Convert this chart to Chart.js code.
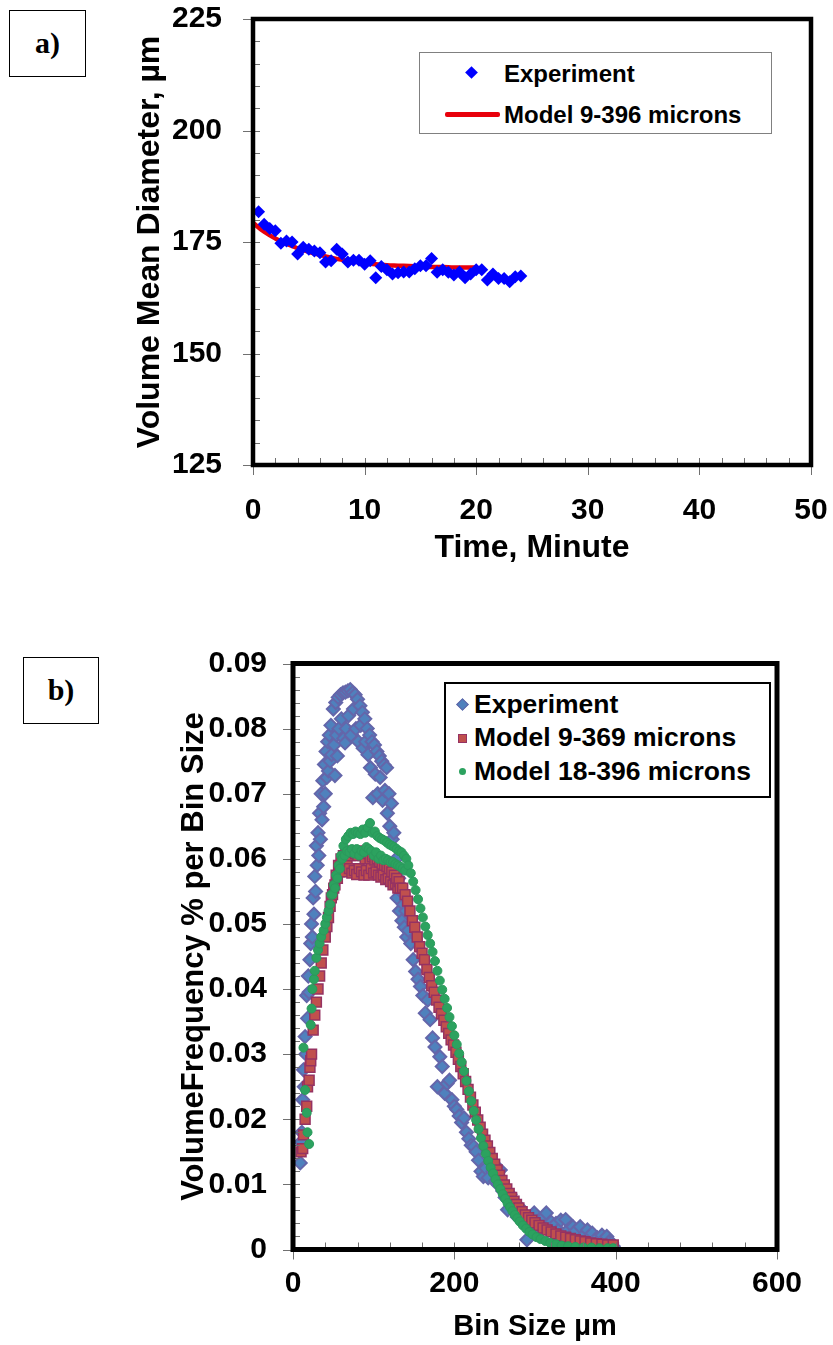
<!DOCTYPE html>
<html>
<head>
<meta charset="utf-8">
<script src="https://cdn.jsdelivr.net/npm/chart.js@4.4.1/dist/chart.umd.min.js"></script>
<style>
  html, body { margin: 0; padding: 0; background: #fff; }
  #page { position: relative; width: 833px; height: 1345px; overflow: hidden; }
  canvas { position: absolute; left: 0; }
  .panel { position: absolute; box-sizing: border-box; border: 1.5px solid #000; background: #fff;
           font: bold 30px "Liberation Serif", "Times New Roman", serif; text-align: center; }
  .legend { position: absolute; box-sizing: border-box; background: #fff; }
  .legend span { position: absolute; white-space: nowrap; font-family: "Liberation Sans", Arial, sans-serif; font-weight: bold; color: #000; }
  .mk { position: absolute; box-sizing: border-box; }
</style>
</head>
<body>
<div id="page">
  <canvas id="chartA" width="833" height="600" style="top:0"></canvas>
  <canvas id="chartB" width="833" height="725" style="top:620px"></canvas>

  <div class="panel" style="left:9px;top:10px;width:77px;height:67px;line-height:64px">a)</div>
  <div class="panel" style="left:23px;top:657px;width:76px;height:67px;line-height:64px">b)</div>

  <!-- légende a -->
  <div class="legend" style="left:419px;top:52px;width:353px;height:82px;border:1.5px solid #808080">
    <div class="mk" style="left:47px;top:15px;width:9px;height:9px;background:#0000ff;transform:rotate(45deg)"></div>
    <span style="left:84px;top:6px;font-size:24px;line-height:30px">Experiment</span>
    <div class="mk" style="left:25px;top:59px;width:55px;height:5px;background:#e8000b;border-radius:2px"></div>
    <span style="left:84px;top:47px;font-size:24px;line-height:30px">Model 9-396 microns</span>
  </div>

  <!-- légende b -->
  <div class="legend" style="left:444px;top:682px;width:327px;height:116px;border:2px solid #000">
    <div class="mk" style="left:12px;top:16px;width:9px;height:9px;background:#4f81bd;border:1.5px solid #6264a7;transform:rotate(45deg)"></div>
    <span style="left:28px;top:4px;font-size:26.5px;line-height:32px">Experiment</span>
    <div class="mk" style="left:12px;top:50px;width:9px;height:9px;background:#c0504d;border:1.5px solid #953262"></div>
    <span style="left:28px;top:37px;font-size:26.5px;line-height:32px">Model 9-369 microns</span>
    <div class="mk" style="left:13px;top:84px;width:7px;height:7px;background:#2ca25f;border-radius:50%"></div>
    <span style="left:28px;top:71px;font-size:26.5px;line-height:32px">Model 18-396 microns</span>
  </div>
</div>

<script>
// ---------- données graphique a) ----------
const timeExp = [0.5, 1, 1.5, 2, 2.5, 3, 3.5, 4, 4.5, 5, 5.5, 6, 6.5, 7, 7.5, 8, 8.5, 9, 9.5, 10,
  10.5, 11, 11.5, 12, 12.5, 13, 13.5, 14, 14.5, 15, 15.5, 16, 16.5, 17, 17.5, 18, 18.5, 19, 19.5, 20,
  20.5, 21, 21.5, 22, 22.5, 23, 23.5, 24];
const diamExp = [181.8, 179.0, 178.0, 177.5, 174.7, 175.2, 175.0, 172.3, 173.8, 173.4, 173.0, 172.6, 170.5, 170.8, 173.4, 172.3, 170.5, 170.9, 170.9, 170.0,
  170.8, 167.0, 169.5, 168.8, 167.8, 168.1, 168.3, 168.3, 169.0, 169.7, 169.7, 171.3, 168.2, 168.8, 168.2, 167.6, 168.3, 167.0, 167.8, 168.8,
  168.8, 166.5, 167.8, 166.8, 166.8, 166.1, 167.2, 167.4];

const timeModel = [0, 1, 2, 3, 4, 5, 6, 7, 8, 9, 10, 11, 12, 13, 14, 15, 16, 17, 18, 19, 20];
const diamModel = [179.3, 177.3, 175.8, 174.6, 173.6, 172.8, 172.1, 171.5, 171.0, 170.6, 170.3,
  170.0, 169.8, 169.7, 169.6, 169.5, 169.4, 169.4, 169.3, 169.3, 169.3];

const timeMinor = [0, 2, 4, 6, 8, 10, 12, 14, 16, 18, 20, 22, 24, 26, 28, 30, 32, 34, 36, 38, 40, 42, 44, 46, 48, 50];
const diamMinor = [125, 130, 135, 140, 145, 150, 155, 160, 165, 170, 175, 180, 185, 190, 195, 200, 205, 210, 215, 220, 225];

// ---------- données graphique b) ----------
const expBin = [9, 10, 11, 12, 13, 14, 15, 16, 17, 18, 19, 20, 21, 22, 23, 24, 25, 26, 27, 28, 29, 30,
  31, 32, 33, 34, 35, 36, 37, 38, 39, 40, 41, 42, 43, 44,
  45, 46, 47, 48, 50, 51, 53, 54, 56, 57, 59, 60, 62, 63, 65, 66, 68, 69, 71, 72, 74, 75, 77, 78,
  80, 81, 83, 84, 86, 87, 89, 90, 92, 93, 95, 96, 98, 99, 101, 102, 104, 105, 107, 108,
  110, 111, 113, 114, 116, 117, 119, 120, 122, 123, 125, 126, 128, 129, 131, 132, 134, 135, 137, 138,
  140, 141, 143,
  146, 149, 152, 155, 158, 161, 164, 167, 170, 173, 176, 179, 182, 185, 188, 191, 194, 197, 200,
  203, 206, 209, 212, 215, 218, 221, 224, 227, 230, 233, 236, 239, 242, 245, 248, 251, 254, 257, 260,
  263, 266, 269, 272, 275, 278, 281, 284, 287, 290, 293, 296, 299, 302, 305, 308, 311, 314, 317, 320,
  323, 326, 329, 332, 335, 338, 341, 344, 347, 350, 353, 356, 359, 362, 365, 368, 371, 374, 377, 380,
  383, 386, 389, 392, 395, 397,
  52, 55, 64.5];
const expFreq = [0.0133, 0.0165, 0.0180, 0.0230, 0.0276, 0.0250, 0.0327, 0.0300, 0.0390, 0.0355, 0.0420, 0.0395, 0.0445, 0.0470, 0.0500, 0.0480, 0.0540, 0.0515, 0.0573, 0.0550, 0.0620, 0.0590,
  0.0640, 0.0605, 0.0670, 0.0630, 0.0700, 0.0660, 0.0720, 0.0680, 0.0745, 0.0700, 0.0765, 0.0725, 0.0780, 0.0735,
  0.0790, 0.0750, 0.0805, 0.0760, 0.0830, 0.0775, 0.0840, 0.0790, 0.0848, 0.0800, 0.0852, 0.0815, 0.0855, 0.0785, 0.0856, 0.0800, 0.0858, 0.0820, 0.0860, 0.0790, 0.0855, 0.0830, 0.0852, 0.0800,
  0.0845, 0.0780, 0.0835, 0.0805, 0.0825, 0.0770, 0.0815, 0.0780, 0.0800, 0.0760, 0.0790, 0.0740, 0.0780, 0.0694, 0.0775, 0.0730, 0.0765, 0.0700, 0.0758, 0.0725,
  0.0750, 0.0690, 0.0744, 0.0705, 0.0740, 0.0670, 0.0700, 0.0650, 0.0685, 0.0630, 0.0640, 0.0590, 0.0600, 0.0540, 0.0570, 0.0520, 0.0550, 0.0505, 0.0530, 0.0495,
  0.0520, 0.0480, 0.0490,
  0.0470, 0.0445, 0.0427, 0.0415, 0.0404, 0.0390, 0.0363, 0.0383, 0.0353, 0.0325, 0.0311, 0.0250, 0.0296, 0.0281, 0.0240, 0.0255, 0.0260, 0.0230, 0.0220,
  0.0215, 0.0205, 0.0195, 0.0202, 0.0180, 0.0170, 0.0160, 0.0158, 0.0150, 0.0137, 0.0120, 0.0112, 0.0125, 0.0110, 0.0135, 0.0120, 0.0105, 0.0100, 0.0122, 0.0090,
  0.0080, 0.0061, 0.0085, 0.0076, 0.0060, 0.0050, 0.0065, 0.0045, 0.0055, 0.0015, 0.0048, 0.0040, 0.0056, 0.0035, 0.0045, 0.0030, 0.0050, 0.0056, 0.0032, 0.0042,
  0.0025, 0.0040, 0.0030, 0.0045, 0.0020, 0.0046, 0.0030, 0.0010, 0.0035, 0.0028, 0.0005, 0.0035, 0.0020, 0.0008, 0.0030, 0.0015, 0.0025, 0.0005, 0.0018, 0.0010,
  0.0022, 0.0008, 0.0020, 0.0012, 0.0010, 0.0005,
  0.0728, 0.0758, 0.0778];

// Model 9-369 microns
const modelABin = [10, 12, 13, 15, 17, 18, 20, 21, 22, 23, 25, 27, 29, 31, 33, 35, 37, 40, 42, 44,
  46, 47.5, 49, 50.5, 52, 53.5, 55, 56.5, 58, 59.5, 61, 62.5, 64, 65.5, 67, 68.5, 70, 71.5, 73, 74.5,
  76, 77.5, 79, 80.5, 82, 83.5, 85, 86.5, 88, 89.5, 91, 92.5, 94, 95.5, 97, 98.5, 100, 101.5, 103, 104.5,
  106, 107.5, 109, 110.5, 112, 113.5, 115, 116.5, 118, 119.5, 121, 122.5, 124, 125.5, 127, 128.5, 130, 131.5, 133,
  136, 139, 142, 145, 148, 151, 154, 157, 160, 163, 166, 169, 172, 175, 178, 181, 184, 187, 190, 193,
  196, 199, 202, 205, 208, 211, 214, 217, 220, 223, 226, 229, 232, 235, 238, 241, 244, 247, 250, 253,
  256, 259, 262, 265, 268, 271, 274, 277, 280, 284, 288, 292, 296, 300, 305, 310, 315, 320, 326, 332,
  338, 344, 350, 356, 362, 369, 376, 383, 390, 397];
const modelAFreq = [0.0150, 0.0155, 0.0176, 0.0200, 0.0220, 0.0250, 0.0260, 0.0280, 0.0290, 0.0300, 0.0337, 0.0360, 0.0380, 0.0400, 0.0420, 0.0440, 0.0460, 0.0480, 0.0496, 0.0510,
  0.0527, 0.0540, 0.0545, 0.0555, 0.0560, 0.0575, 0.0570, 0.0590, 0.0580, 0.0600, 0.0585, 0.0605, 0.0580, 0.0610, 0.0590, 0.0612, 0.0585, 0.0605, 0.0578, 0.0610,
  0.0582, 0.0608, 0.0576, 0.0605, 0.0585, 0.0612, 0.0580, 0.0605, 0.0575, 0.0600, 0.0582, 0.0608, 0.0575, 0.0600, 0.0585, 0.0603, 0.0578, 0.0598, 0.0580, 0.0600,
  0.0575, 0.0595, 0.0572, 0.0592, 0.0575, 0.0590, 0.0568, 0.0588, 0.0570, 0.0585, 0.0565, 0.0580, 0.0560, 0.0575, 0.0562, 0.0570, 0.0555, 0.0565, 0.0555,
  0.0555, 0.0545, 0.0535, 0.0520, 0.0505, 0.0495, 0.0480, 0.0465, 0.0455, 0.0445, 0.0430, 0.0418, 0.0405, 0.0395, 0.0383, 0.0372, 0.0362, 0.0352, 0.0342, 0.0332,
  0.0322, 0.0314, 0.0303, 0.0292, 0.0281, 0.0270, 0.0258, 0.0246, 0.0234, 0.0222, 0.0211, 0.0199, 0.0188, 0.0177, 0.0168, 0.0159, 0.0149, 0.0140, 0.0131, 0.0122,
  0.0114, 0.0106, 0.0099, 0.0093, 0.0086, 0.0080, 0.0074, 0.0069, 0.0064, 0.0058, 0.0053, 0.0049, 0.0045, 0.0041, 0.0037, 0.0033, 0.0030, 0.0027, 0.0024, 0.0021,
  0.0019, 0.0017, 0.0015, 0.0013, 0.0012, 0.0010, 0.0009, 0.0008, 0.0007, 0.0007];

// Model 18-396 microns
const modelBBin = [13, 15, 17, 18, 20, 22, 23, 24, 26, 27, 29, 31, 33, 35, 38, 40, 42, 44,
  46, 47.5, 49, 50.5, 52, 53.5, 55, 56.5, 58, 59.5, 61, 62.5, 64, 65.5, 67, 68.5, 70, 71.5, 73, 74.5,
  76, 77.5, 79, 80.5, 82, 83.5, 85, 86.5, 88, 89.5, 91, 92.5, 94, 95.5, 97, 98.5, 100, 101.5, 103, 104.5,
  106, 107.5, 109, 110.5, 112, 113.5, 115, 116.5, 118, 119.5, 121, 122.5, 124, 125.5, 127, 128.5, 130, 131.5, 133, 134.5,
  136, 137.5, 139, 140.5,
  143, 146, 149, 152, 155, 158, 161, 164, 167, 170, 173, 176, 179, 182, 185, 188, 191, 194, 197, 200,
  203, 206, 209, 212, 215, 218, 221, 224, 227, 230, 233, 236, 239, 242, 245, 248, 251, 254, 257, 260,
  263, 266, 269, 272, 275, 278, 281, 285, 289, 293, 297, 302, 307, 313, 319, 326, 333, 341, 350, 360,
  370, 380, 390, 397];
const modelBFreq = [0.0310, 0.0245, 0.0210, 0.0180, 0.0162, 0.0345, 0.0370, 0.0400, 0.0415, 0.0428, 0.0448, 0.0460, 0.0470, 0.0480, 0.0490, 0.0500, 0.0510, 0.0520,
  0.0530, 0.0545, 0.0545, 0.0560, 0.0555, 0.0575, 0.0570, 0.0590, 0.0585, 0.0605, 0.0600, 0.0620, 0.0605, 0.0630, 0.0612, 0.0635, 0.0610, 0.0640, 0.0615, 0.0638,
  0.0608, 0.0642, 0.0615, 0.0640, 0.0605, 0.0638, 0.0612, 0.0645, 0.0610, 0.0640, 0.0618, 0.0648, 0.0615, 0.0655, 0.0612, 0.0640, 0.0605, 0.0642, 0.0610, 0.0635,
  0.0600, 0.0632, 0.0605, 0.0630, 0.0598, 0.0628, 0.0600, 0.0625, 0.0598, 0.0622, 0.0595, 0.0620, 0.0595, 0.0618, 0.0592, 0.0615, 0.0590, 0.0612, 0.0588, 0.0610,
  0.0585, 0.0605, 0.0582, 0.0600,
  0.0590, 0.0578, 0.0565, 0.0552, 0.0538, 0.0524, 0.0510, 0.0496, 0.0483, 0.0470, 0.0457, 0.0443, 0.0428, 0.0413, 0.0399, 0.0385, 0.0371, 0.0357, 0.0343, 0.0329,
  0.0315, 0.0301, 0.0288, 0.0274, 0.0259, 0.0243, 0.0228, 0.0213, 0.0199, 0.0185, 0.0171, 0.0159, 0.0147, 0.0136, 0.0126, 0.0117, 0.0108, 0.0100, 0.0093, 0.0085,
  0.0078, 0.0071, 0.0065, 0.0059, 0.0053, 0.0048, 0.0043, 0.0037, 0.0032, 0.0027, 0.0023, 0.0019, 0.0016, 0.0013, 0.0010, 0.0008, 0.0006, 0.0005, 0.0004, 0.0003,
  0.0003, 0.0002, 0.0002, 0.0002];

const binMinor = [0, 40, 80, 120, 160, 200, 240, 280, 320, 360, 400, 440, 480, 520, 560, 600];
const freqMinor = [0, 0.002, 0.004, 0.006, 0.008, 0.01, 0.012, 0.014, 0.016, 0.018,
  0.02, 0.022, 0.024, 0.026, 0.028, 0.03, 0.032, 0.034, 0.036, 0.038,
  0.04, 0.042, 0.044, 0.046, 0.048, 0.05, 0.052, 0.054, 0.056, 0.058,
  0.06, 0.062, 0.064, 0.066, 0.068, 0.07, 0.072, 0.074, 0.076, 0.078,
  0.08, 0.082, 0.084, 0.086, 0.088, 0.09];

// ---------- réglages communs ----------
const FAMILY = '"Liberation Sans", Arial, Helvetica, sans-serif';
const tickFont = { family: FAMILY, size: 30, weight: 'bold' };

function toPoints(xs, ys) {
    return xs.map((x, i) => ({ x: x, y: ys[i] }));
}

// cadre épais + graduations mineures (dedans) et majeures (dehors)
const framePlugin = {
    id: 'frame',
    afterDraw(chart, args, opts) {
        const ctx = chart.ctx;
        const a = chart.chartArea;
        const sx = chart.scales.x;
        const sy = chart.scales.y;
        ctx.save();
        ctx.strokeStyle = '#707070';
        ctx.lineWidth = 1;
        ctx.beginPath();
        opts.xMinor.forEach(v => {
            const px = Math.round(sx.getPixelForValue(v)) + 0.5;
            ctx.moveTo(px, a.bottom);
            ctx.lineTo(px, a.bottom - 7);
        });
        opts.yMinor.forEach(v => {
            const py = Math.round(sy.getPixelForValue(v)) + 0.5;
            ctx.moveTo(a.left, py);
            ctx.lineTo(a.left + 7, py);
        });
        sx.ticks.forEach(t => {
            const px = Math.round(sx.getPixelForValue(t.value)) + 0.5;
            ctx.moveTo(px, a.bottom);
            ctx.lineTo(px, a.bottom + 10);
        });
        sy.ticks.forEach(t => {
            const py = Math.round(sy.getPixelForValue(t.value)) + 0.5;
            ctx.moveTo(a.left - 10, py);
            ctx.lineTo(a.left, py);
        });
        ctx.stroke();
        ctx.strokeStyle = '#000';
        ctx.lineWidth = opts.width;
        ctx.strokeRect(a.left, a.top, a.right - a.left, a.bottom - a.top);
        ctx.restore();
    }
};

// la marge des étiquettes ne doit pas rétrécir la zone du graphique
function fixX(h) {
    return s => { s.height = h; s.paddingLeft = 0; s.paddingRight = 0; };
}
function fixY(w) {
    return s => { s.width = w; s.paddingTop = 0; s.paddingBottom = 0; };
}

// ---------- graphique a) ----------
new Chart(document.getElementById('chartA'), {
    type: 'scatter',
    data: {
        datasets: [{
            label: 'Experiment',
            data: toPoints(timeExp, diamExp),
            pointStyle: 'rectRot',
            pointRadius: 6.5,
            backgroundColor: '#0000ff',
            borderColor: '#0000ff',
            borderWidth: 0,
            order: 1
        }, {
            label: 'Model 9-396 microns',
            data: toPoints(timeModel, diamModel),
            showLine: true,
            pointRadius: 0,
            borderColor: '#e8000b',
            borderWidth: 4.5,
            tension: 0.4,
            order: 2
        }]
    },
    options: {
        responsive: false,
        animation: false,
        events: [],
        layout: { padding: { left: 0, top: 19, right: 22, bottom: 0 } },
        plugins: {
            legend: { display: false },
            tooltip: { enabled: false },
            frame: { xMinor: timeMinor, yMinor: diamMinor, width: 4.5 }
        },
        scales: {
            x: {
                type: 'linear', min: 0, max: 50,
                afterFit: fixX(135),
                grid: { display: false, drawTicks: false },
                border: { display: false },
                ticks: { stepSize: 10, padding: 28, font: tickFont, color: '#000', autoSkip: false, maxRotation: 0 },
                title: { display: true, text: 'Time, Minute', color: '#000',
                         font: { family: FAMILY, size: 32, weight: 'bold' }, padding: { top: 0, bottom: 33 } }
            },
            y: {
                type: 'linear', min: 125, max: 225,
                afterFit: fixY(253),
                grid: { display: false, drawTicks: false },
                border: { display: false },
                ticks: { stepSize: 25, padding: 31, font: tickFont, color: '#000', autoSkip: false },
                title: { display: true, text: 'Volume Mean Diameter, µm', color: '#000',
                         font: { family: FAMILY, size: 32, weight: 'bold' }, padding: { top: 131, bottom: 0 } }
            }
        }
    },
    plugins: [framePlugin]
});

// ---------- graphique b) ----------
new Chart(document.getElementById('chartB'), {
    type: 'scatter',
    data: {
        datasets: [{
            label: 'Experiment',
            data: toPoints(expBin, expFreq),
            pointStyle: 'rectRot',
            pointRadius: 6.5,
            backgroundColor: '#4f81bd',
            borderColor: '#6466aa',
            borderWidth: 2,
            order: 3
        }, {
            label: 'Model 9-369 microns',
            data: toPoints(modelABin, modelAFreq),
            pointStyle: 'rect',
            pointRadius: 7,
            backgroundColor: '#c0504d',
            borderColor: '#953262',
            borderWidth: 1.5,
            order: 2
        }, {
            label: 'Model 18-396 microns',
            data: toPoints(modelBBin, modelBFreq),
            pointStyle: 'circle',
            pointRadius: 4.5,
            backgroundColor: '#2ca25f',
            borderColor: '#2a9a5c',
            borderWidth: 1,
            order: 1
        }]
    },
    options: {
        responsive: false,
        animation: false,
        events: [],
        layout: { padding: { left: 0, top: 43.5, right: 56, bottom: 0 } },
        plugins: {
            legend: { display: false },
            tooltip: { enabled: false },
            frame: { xMinor: binMinor, yMinor: freqMinor, width: 5 }
        },
        scales: {
            x: {
                type: 'linear', min: 0, max: 600,
                afterFit: fixX(95.5),
                grid: { display: false, drawTicks: false },
                border: { display: false },
                ticks: { stepSize: 200, padding: 16, font: tickFont, color: '#000', autoSkip: false, maxRotation: 0 },
                title: { display: true, text: 'Bin Size µm', color: '#000',
                         font: { family: FAMILY, size: 29, weight: 'bold' }, padding: { top: 0, bottom: 1 } }
            },
            y: {
                type: 'linear', min: 0, max: 0.09,
                afterFit: fixY(293),
                grid: { display: false, drawTicks: false },
                border: { display: false },
                ticks: { stepSize: 0.01, padding: 26, font: tickFont, color: '#000', autoSkip: false,
                         callback: v => (v === 0 ? '0' : v.toFixed(2)) },
                title: { display: true, text: 'VolumeFrequency % per Bin Size', color: '#000',
                         font: { family: FAMILY, size: 31, weight: 'bold' }, padding: { top: 176, bottom: 0 } }
            }
        }
    },
    plugins: [framePlugin]
});
</script>
</body>
</html>
